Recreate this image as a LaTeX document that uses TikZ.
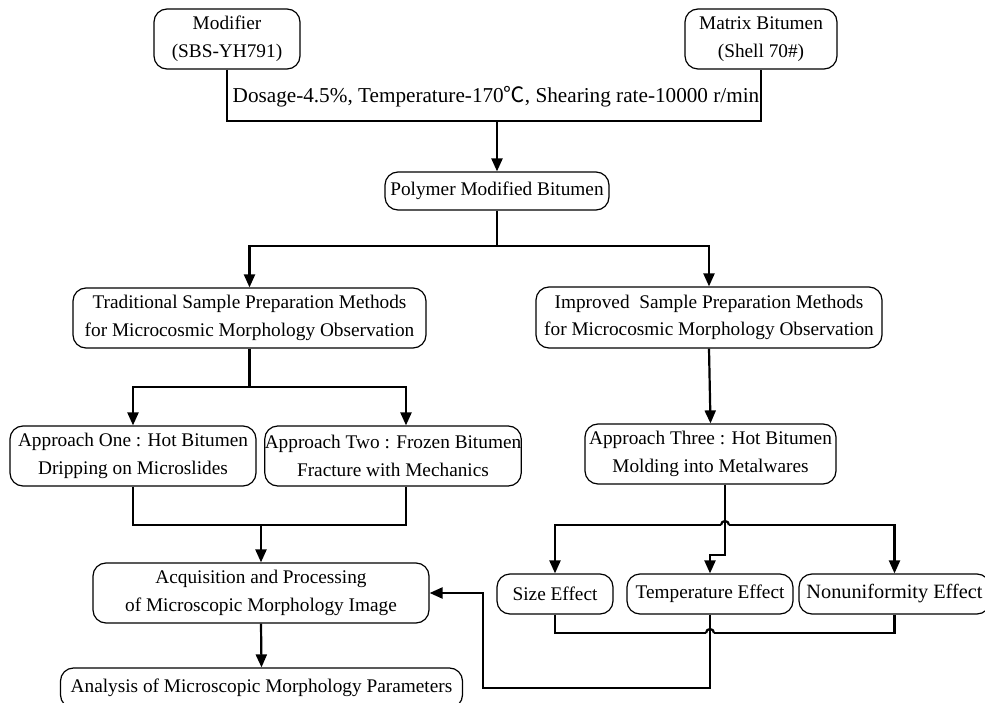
\documentclass[tikz,border=0pt]{standalone}
\usepackage{fontspec}
\setmainfont{Liberation Serif}
\newfontfamily\cjk{Noto Sans CJK SC}
\usetikzlibrary{arrows.meta}
\tikzset{
  box/.style={draw, rounded corners=13pt, line width=1.2pt, align=center, inner sep=0pt,
    font=\fontsize{19.3}{27.5}\selectfont},
  conn/.style={line width=2.2pt},
  arr/.style={conn, -{Triangle[length=13pt,width=11pt]}},
  lbl/.style={inner sep=0pt, font=\fontsize{21.2}{27.5}\selectfont}
}
\begin{document}
\begin{tikzpicture}[x=1pt,y=-1pt]
\useasboundingbox (0,0) rectangle (985,703);
% nodes
\node[box, minimum width=146pt, minimum height=60pt] (mod) at (227,39) {Modifier\\(SBS-YH791)};
\node[box, minimum width=152pt, minimum height=60pt] (mat) at (761,39) {Matrix Bitumen\\(Shell 70\#)};
\node[lbl] (dos) at (496,97) {Dosage-4.5\%, Temperature-170{\cjk ℃}, Shearing rate-10000 r/min};
\node[box, minimum width=224pt, minimum height=38pt] (pmb) at (497,191) {Polymer Modified Bitumen};
\node[box, minimum width=353pt, minimum height=60pt] (trad) at (249.5,318) {Traditional Sample Preparation Methods\\for Microcosmic Morphology Observation};
\node[box, minimum width=346pt, minimum height=61pt] (impr) at (709,317.5) {Improved\ \ Sample Preparation Methods\\for Microcosmic Morphology Observation};
\node[box, minimum width=246pt, minimum height=60pt] (a1) at (133,456) {Approach One : Hot Bitumen\\Dripping on Microslides};
\node[box, minimum width=242pt, minimum height=60pt] (a2) at (393,456) {Approach Two : Frozen Bitumen\\Fracture with Mechanics};
\node[box, minimum width=251pt, minimum height=60pt] (a3) at (710.5,454) {Approach Three : Hot Bitumen\\Molding into Metalwares};
\node[box, minimum width=336pt, minimum height=60pt] (acq) at (261,593) {Acquisition and Processing\\of Microscopic Morphology Image};
\node[box, minimum width=402pt, minimum height=40pt] (ana) at (261.5,688) {Analysis of Microscopic Morphology Parameters};
\node[box, minimum width=116pt, minimum height=40pt] (size) at (555,594) {Size Effect};
\node[box, minimum width=166pt, minimum height=40pt] (temp) at (710,594) {Temperature Effect};
\node[box, minimum width=191pt, minimum height=40pt, font=\fontsize{20.3}{27.5}\selectfont] (nonu) at (894.5,594) {Nonuniformity Effect};
% junction coordinates
\coordinate (j1) at (497,121);
\coordinate (j2) at (497,246);
\coordinate (j3) at (249.5,387);
\coordinate (j4) at (261,525);
\coordinate (h1) at (725,525);
\coordinate (t1) at (710,555);
\coordinate (h2) at (710,633);
\coordinate (b1) at (483,688);
\coordinate (a3s) at ([xshift=14.5pt]a3.south);
% connectors
\draw[conn] (mod.south) |- (j1) -| (mat.south);
\draw[arr] (j1) -- (pmb.north);
\draw[conn] (pmb.south) -- (j2);
\draw[arr] (j2) -| (trad.north);
\draw[arr] (j2) -| (impr.north);
\draw[conn] (trad.south) -- (j3);
\draw[arr] (j3) -| (a1.north);
\draw[arr] (j3) -| ([xshift=13pt]a2.north);
\draw[conn] (a1.south) |- (j4) -| ([xshift=13pt]a2.south);
\draw[arr] (j4) -- (acq.north);
\draw[arr] (acq.south) -- (ana.north);
\draw[arr] (impr.south) -- (a3.north);
% Approach Three to effects
\draw[arr] ([xshift=-4pt]h1) -- (size.north |- h1) -- (size.north);
\draw[conn] ([xshift=-4pt]h1) arc[start angle=180, end angle=0, radius=4pt];
\draw[arr] ([xshift=4pt]h1) -| (nonu.north);
\draw[arr] (a3s) -- (a3s |- t1) -| (temp.north);
% effects back to acquisition
\draw[conn] (size.south) |- ([xshift=-4pt]h2);
\draw[conn] ([xshift=-4pt]h2) arc[start angle=180, end angle=0, radius=4pt];
\draw[conn] ([xshift=4pt]h2) -| (nonu.south);
\draw[arr] (temp.south) |- (b1) |- (acq.east);
\end{tikzpicture}
\end{document}
